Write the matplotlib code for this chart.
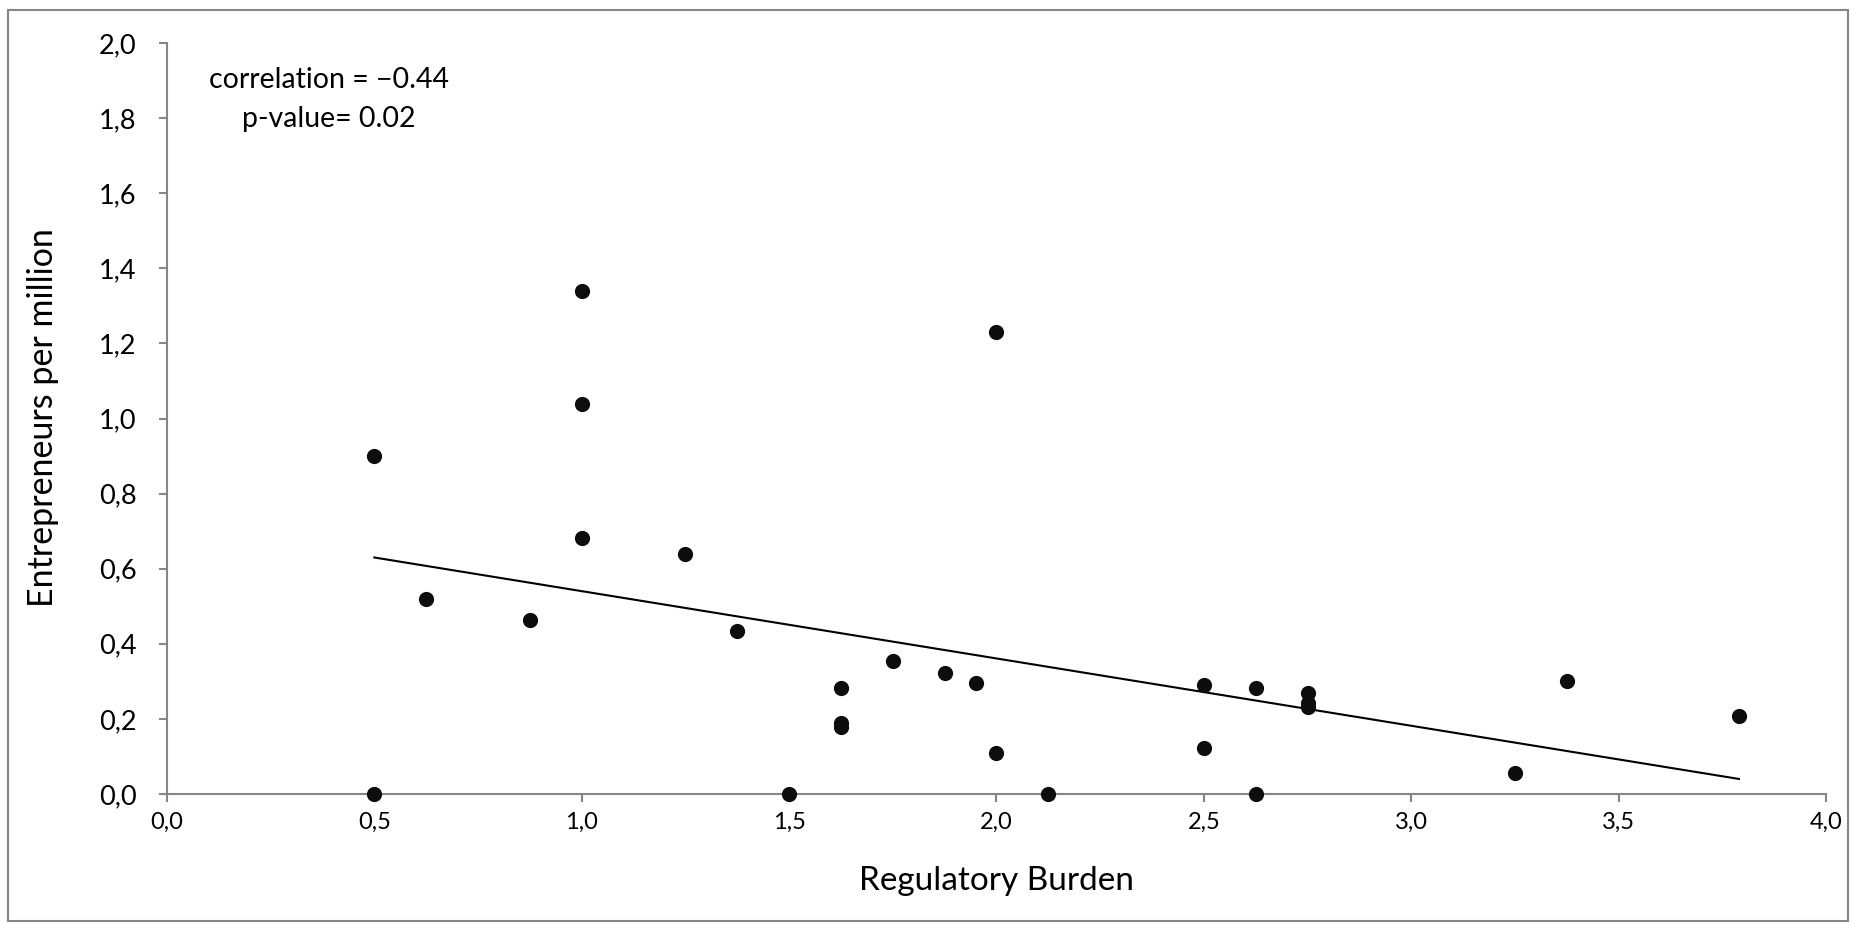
import numpy as np
import matplotlib
matplotlib.use("Agg")
import matplotlib.pyplot as plt
from matplotlib.patches import Rectangle
from matplotlib.ticker import FuncFormatter

plt.rcParams['font.family'] = ['Lato', 'DejaVu Sans']

# Data
regulatory_burden = [0.5, 0.5, 0.625, 0.875, 1.0, 1.0, 1.0, 1.25, 1.375, 1.5,
                     1.625, 1.625, 1.625, 1.75, 1.875, 1.95, 2.0, 2.0, 2.125,
                     2.5, 2.5, 2.625, 2.625, 2.75, 2.75, 2.75, 3.25, 3.375, 3.79]
entrepreneurs = [0.90, 0.0, 0.52, 0.463, 1.339, 1.039, 0.683, 0.639, 0.435, 0.0,
                 0.282, 0.19, 0.178, 0.353, 0.321, 0.296, 1.231, 0.110, 0.0,
                 0.290, 0.123, 0.283, 0.0, 0.268, 0.243, 0.232, 0.057, 0.302, 0.208]
x_ticks = [0.0, 0.5, 1.0, 1.5, 2.0, 2.5, 3.0, 3.5, 4.0]
y_ticks = [0.0, 0.2, 0.4, 0.6, 0.8, 1.0, 1.2, 1.4, 1.6, 1.8, 2.0]
annotation_lines = ["correlation = \u22120.44", "p-value= 0.02"]
x_title = "Regulatory Burden"
y_title = "Entrepreneurs per million"

x = np.array(regulatory_burden)
y = np.array(entrepreneurs)

W, H = 1856, 926
fig = plt.figure(figsize=(W / 100, H / 100), dpi=100)
fig.patch.set_facecolor('white')
# outer chart border
fig.add_artist(Rectangle((8 / W, 5 / H), 1 - 16 / W, 1 - 15 / H, transform=fig.transFigure,
                         fill=False, edgecolor='#868686', linewidth=1.5))

ax = fig.add_axes([167 / W, 1 - 794 / H, (1826 - 167) / W, (794 - 43) / H])
ax.set_xlim(0, 4)
ax.set_ylim(0, 2)

ax.scatter(x, y, s=120, color='#0d0d0d', zorder=3, clip_on=False, linewidths=0)

slope, intercept = np.polyfit(x, y, 1)
xl = np.array([x.min(), x.max()])
ax.plot(xl, slope * xl + intercept, color='black', linewidth=1.5, zorder=2)

for s in ['top', 'right']:
    ax.spines[s].set_visible(False)
for s in ['left', 'bottom']:
    ax.spines[s].set_color('#868686')
    ax.spines[s].set_linewidth(1.5)

ax.set_xticks(x_ticks)
ax.set_yticks(y_ticks)
fmt = FuncFormatter(lambda v, p: f"{v:.1f}".replace('.', ','))
ax.xaxis.set_major_formatter(fmt)
ax.yaxis.set_major_formatter(fmt)
ax.tick_params(axis='both', direction='out', length=6, width=1.5, color='#868686')
ax.tick_params(axis='x', labelsize=17, pad=7)
ax.tick_params(axis='y', labelsize=19.5, pad=16)

fig.text(996 / W, 1 - 890 / H, x_title, ha='center', va='baseline', fontsize=24)
fig.text(43 / W, 1 - 418 / H, y_title, ha='center', va='center', rotation=90, fontsize=24.5)

fig.text(329 / W, 1 - 80 / H, annotation_lines[0], ha='center', va='center', fontsize=20.5)
fig.text(329 / W, 1 - 119 / H, annotation_lines[1], ha='center', va='center', fontsize=20.5)

fig.savefig("out.png", dpi=100, facecolor='white')
